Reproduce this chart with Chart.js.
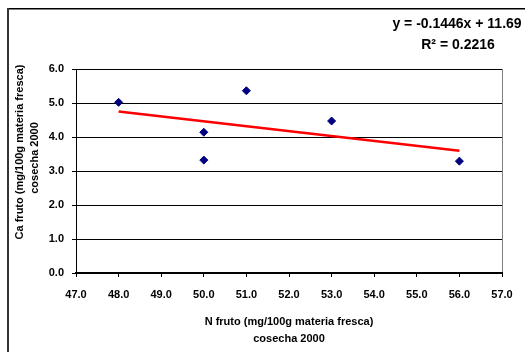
<!DOCTYPE html>
<html>
<head>
<meta charset="utf-8">
<title>Ca vs N fruto</title>
<script src="https://cdn.jsdelivr.net/npm/chart.js@4/dist/chart.umd.min.js"></script>
<style>
  body { margin: 0; background: #ffffff; }
  canvas { display: block; }
</style>
</head>
<body>
<canvas id="scatter" width="525" height="352"></canvas>
<script>
// Data (N fruto vs Ca fruto, cosecha 2000)
const nFruto = [48.0, 50.0, 50.0, 51.0, 53.0, 56.0];
const caFruto = [5.02, 4.14, 3.32, 5.36, 4.47, 3.29];

// Linear trend: y = slope * x + intercept
const trendSlope = -0.1446;
const trendIntercept = 11.69;
const trendR2 = 0.2216;
const trendRange = [48.0, 56.0];

// Axis tick values
const xTicks = [47.0, 48.0, 49.0, 50.0, 51.0, 52.0, 53.0, 54.0, 55.0, 56.0, 57.0];
const yTicks = [0.0, 1.0, 2.0, 3.0, 4.0, 5.0, 6.0];

const fontFamily = "'Liberation Sans', Arial, sans-serif";

// 1. Build datasets
var points = nFruto.map((x, i) => ({ x: x, y: caFruto[i] }));
var trendPoints = trendRange.map((x) => ({ x: x, y: trendSlope * x + trendIntercept }));

// 2. Extra drawing: outer frame, rotated y title, equation text
var extrasPlugin = {
  id: "extras",
  beforeDraw(chart) {
    const ctx = chart.ctx;
    ctx.save();
    ctx.fillStyle = "#ffffff";
    ctx.fillRect(0, 0, chart.width, chart.height);
    // frame around the chart (runs off the right and bottom)
    ctx.fillStyle = "#000000";
    ctx.fillRect(7, 8, chart.width, 1.5);
    ctx.fillStyle = "#333333";
    ctx.fillRect(7, 8, 2, chart.height);
    ctx.restore();
  },
  afterDraw(chart) {
    const ctx = chart.ctx;
    ctx.save();
    ctx.fillStyle = "#000000";
    ctx.textAlign = "center";
    ctx.textBaseline = "middle";

    // y axis title, two rotated lines
    ctx.font = "bold 11px " + fontFamily;
    ctx.save();
    ctx.translate(20, 152);
    ctx.rotate(-Math.PI / 2);
    ctx.fillText("Ca fruto (mg/100g materia fresca)", 0, 0);
    ctx.restore();
    ctx.save();
    ctx.translate(35, 158);
    ctx.rotate(-Math.PI / 2);
    ctx.fillText("cosecha 2000", 0, 0);
    ctx.restore();

    // trendline equation
    ctx.font = "bold 14px " + fontFamily;
    ctx.fillText("y = " + trendSlope + "x + " + trendIntercept, 457, 24);
    ctx.fillText("R\u00B2 = " + trendR2, 458, 45);
    ctx.restore();
  },
};

// 3. Chart
new Chart(document.getElementById("scatter"), {
  type: "scatter",
  data: {
    datasets: [
      {
        label: "Ca fruto",
        data: points,
        pointStyle: "rectRot",
        pointRadius: 4,
        pointHoverRadius: 4,
        backgroundColor: "#000080",
        borderColor: "#000080",
        borderWidth: 1,
        order: 1,
      },
      {
        label: "Lineal",
        data: trendPoints,
        showLine: true,
        pointRadius: 0,
        borderColor: "#ff0000",
        borderWidth: 2.5,
        order: 2,
      },
    ],
  },
  options: {
    responsive: false,
    animation: false,
    events: [],
    layout: { padding: { top: 69, right: 23, bottom: 0, left: 0 } },
    plugins: {
      legend: { display: false },
      tooltip: { enabled: false },
    },
    scales: {
      x: {
        type: "linear",
        min: xTicks[0],
        max: xTicks[xTicks.length - 1],
        afterBuildTicks: (scale) => {
          scale.ticks = xTicks.map((v) => ({ value: v }));
        },
        afterFit: (scale) => {
          scale.height = 79;
        },
        ticks: {
          color: "#000000",
          padding: 11,
          maxRotation: 0,
          font: { family: fontFamily, size: 11, weight: "bold" },
          callback: (v) => Number(v).toFixed(1),
        },
        grid: {
          // only the right edge of the plot area is drawn as a line
          color: (c) => (c.index === xTicks.length - 1 ? "#808080" : "rgba(0,0,0,0)"),
          tickColor: "#000000",
          tickLength: 4,
        },
        border: { color: "#000000", width: 2 },
        title: {
          display: true,
          text: ["N fruto (mg/100g materia fresca)", "cosecha 2000"],
          color: "#000000",
          font: { family: fontFamily, size: 11, weight: "bold", lineHeight: 1.55 },
          padding: { top: 0, bottom: 4.5 },
        },
      },
      y: {
        type: "linear",
        min: yTicks[0],
        max: yTicks[yTicks.length - 1],
        afterBuildTicks: (scale) => {
          scale.ticks = yTicks.map((v) => ({ value: v }));
        },
        afterFit: (scale) => {
          scale.width = 76;
        },
        ticks: {
          color: "#000000",
          padding: 8,
          font: { family: fontFamily, size: 11, weight: "bold" },
          callback: (v) => Number(v).toFixed(1),
        },
        grid: {
          color: "#000000",
          lineWidth: 1,
          tickColor: "#000000",
          tickLength: 4,
        },
        border: { color: "#000000", width: 1 },
      },
    },
  },
  plugins: [extrasPlugin],
});
</script>
</body>
</html>
